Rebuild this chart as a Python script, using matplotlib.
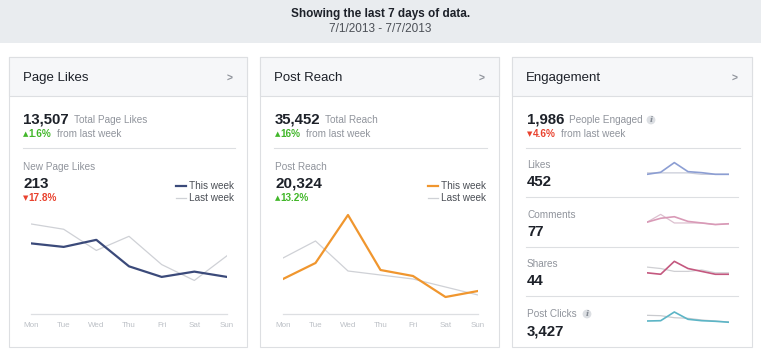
import matplotlib
matplotlib.use("Agg")
import matplotlib.pyplot as plt
from matplotlib.patches import Rectangle, Circle

plt.rcParams['font.family'] = ['Liberation Sans', 'DejaVu Sans']

W, H = 761, 351

# ---- data ----
days = ["Mon", "Tue", "Wed", "Thu", "Fri", "Sat", "Sun"]

likes_this_week = [40, 38, 42, 27, 21, 24, 21]
likes_last_week = [51, 48, 36, 44, 28, 19, 33]

reach_this_week = [2317, 3376, 6554, 2913, 2516, 1125, 1523]
reach_last_week = [3707, 4833, 2847, 2582, 2317, 1787, 1258]

eng_labels = ["Likes", "Comments", "Shares", "Post Clicks"]
eng_totals = ["452", "77", "44", "3,427"]
eng_this_week = [
    [52, 62, 109, 65, 60, 52, 52],
    [10, 15, 17, 11, 9, 7, 8],
    [5, 4, 13, 8, 6, 4, 4],
    [424, 438, 848, 504, 438, 410, 365],
]
eng_last_week = [
    [59, 59, 59, 59, 52, 52, 52],
    [10, 20, 9, 9, 9, 7, 8],
    [9, 8, 6, 6, 7, 5, 5],
    [692, 674, 579, 551, 471, 424, 377],
]

# ---- styles ----
DARK = "#1d2129"
GRAY = "#90949c"
BORDER = "#dddfe2"
GREEN = "#42b72a"
RED = "#e9422e"
LAST = "#cfd1d6"
SMALL = 7.2
eng_colors = ["#8c9ed3", "#d99ab7", "#c4587f", "#5cb5c6"]
eng_last_colors = ["#c9ccd8", "#dcc0cf", "#cfcfd3", "#c9cbcf"]

fig = plt.figure(figsize=(W / 100, H / 100), dpi=100)
bg = fig.add_axes([0, 0, 1, 1])
bg.set_xlim(0, W)
bg.set_ylim(H, 0)
bg.axis("off")


def px_axes(x0, y0, x1, y1):
    """axes placed by pixel box (y measured from top)"""
    return fig.add_axes([x0 / W, 1 - y1 / H, (x1 - x0) / W, (y1 - y0) / H])


def info(x, y):
    bg.add_patch(Circle((x, y), 4.4, facecolor="#dcdfe3", edgecolor="none"))
    bg.text(x, y + 0.4, "i", ha="center", va="center", fontsize=6,
            style="italic", fontweight="bold", color="#858b94", family="DejaVu Serif")


def arrow(x, y, up):
    col = GREEN if up else RED
    bg.text(x, y - 0.5, "▲" if up else "▼", va="baseline", fontsize=5, color=col,
            family="DejaVu Sans")
    return col


# banner
bg.add_patch(Rectangle((0, 0), W, 43, facecolor="#e9ecef", edgecolor="none"))
bg.text(W / 2, 14, "Showing the last 7 days of data.", ha="center", va="center",
        fontsize=8.5, fontweight="bold", color=DARK)
bg.text(W / 2, 29, "7/1/2013 - 7/7/2013", ha="center", va="center",
        fontsize=8.5, color="#4b4f56")

panels = [(9, 247, "Page Likes"), (260, 499, "Post Reach"), (512, 752, "Engagement")]
for x0, x1, title in panels:
    bg.add_patch(Rectangle((x0, 57), x1 - x0, 290, facecolor="white",
                           edgecolor=BORDER, lw=0.8))
    bg.add_patch(Rectangle((x0, 57), x1 - x0, 39, facecolor="#f6f7f9",
                           edgecolor=BORDER, lw=0.8))
    bg.text(x0 + 14, 78, title, va="center", fontsize=9.5, color=DARK)
    bg.text(x1 - 17, 78.5, ">", va="center", ha="center", fontsize=7.5,
            fontweight="bold", color=GRAY)
    bg.plot([x0 + 14, x1 - 12], [148, 148], color=BORDER, lw=0.8)


def summary(x, big, label, label_x, pct, up, rest_x, info_x=None):
    bg.text(x, 123, big, va="baseline", fontsize=10.8, fontweight="bold", color=DARK)
    bg.text(label_x, 123, label, va="baseline", fontsize=SMALL, color=GRAY)
    if info_x is not None:
        info(info_x, 120)
    col = arrow(x, 137, up)
    bg.text(x + 5.5, 137, pct, va="baseline", fontsize=SMALL, fontweight="bold", color=col)
    bg.text(rest_x, 137, "from last week", va="baseline", fontsize=SMALL, color=GRAY)


def main_chart(x0, x1, this, last, color, scale_top, name, total, pct, up, lx):
    bg.text(x0, 170, name, va="baseline", fontsize=SMALL, color=GRAY)
    bg.text(x0, 188, total, va="baseline", fontsize=11, fontweight="bold", color=DARK)
    col = arrow(x0, 201, up)
    bg.text(x0 + 5.5, 201, pct, va="baseline", fontsize=SMALL, fontweight="bold", color=col)

    ax = px_axes(x0 + 8, 204, x1, 314)
    ax.patch.set_alpha(0)
    xs = range(len(days))
    ax.plot(xs, last, color=LAST, lw=0.9, label="Last week", zorder=2)
    ax.plot(xs, this, color=color, lw=1.6, label="This week", zorder=3)
    ax.set_xlim(0, 6)
    ax.set_ylim(0, scale_top)
    ax.set_xticks(list(xs))
    ax.set_xticklabels(days, fontsize=5.8, color="#bcc0c6")
    ax.tick_params(axis="x", length=0, pad=6)
    ax.set_yticks([])
    for s in ["top", "left", "right"]:
        ax.spines[s].set_visible(False)
    ax.spines["bottom"].set_color(BORDER)
    ax.spines["bottom"].set_linewidth(0.9)
    handles, labels = ax.get_legend_handles_labels()
    ax.legend(handles[::-1], labels[::-1], loc="upper right",
              bbox_to_anchor=(lx, 181), bbox_transform=bg.transData,
              frameon=False, fontsize=SMALL, handlelength=1.0, handletextpad=0.35,
              labelspacing=0.2, borderpad=0, borderaxespad=0, labelcolor="#4b4f56")


summary(23, "13,507", "Total Page Likes", 74, "1.6%", True, rest_x=57)
main_chart(23, 227, likes_this_week, likes_last_week, "#3b4a7a", 62.3,
           "New Page Likes", "213", "17.8%", False, 234)

summary(275, "35,452", "Total Reach", 325, "16%", True, rest_x=306)
main_chart(275, 478, reach_this_week, reach_last_week, "#f0962e", 7282,
           "Post Reach", "20,324", "13.2%", True, 486)

summary(527, "1,986", "People Engaged", 569, "4.6%", False, rest_x=561, info_x=651)

# engagement rows
row_label_base = [168, 218.3, 267.3, 317.3]
row_value_base = [185.5, 236, 285, 335]
spark_base = [185, 230, 280, 330]
spark_top = [146, 38.4, 20.9, 1413]
for i, lab in enumerate(eng_labels):
    bg.text(527, row_label_base[i], lab, va="baseline", fontsize=SMALL, color=GRAY)
    bg.text(527, row_value_base[i], eng_totals[i], va="baseline", fontsize=10.8,
            fontweight="bold", color=DARK)
    if i > 0:
        yl = [197, 247, 296][i - 1]
        bg.plot([526, 738], [yl, yl], color=BORDER, lw=0.8)
    sx = px_axes(647, spark_base[i] - 30, 729, spark_base[i])
    sx.axis("off")
    sx.plot(range(7), eng_last_week[i], color=eng_last_colors[i], lw=0.9)
    sx.plot(range(7), eng_this_week[i], color=eng_colors[i], lw=1.2)
    sx.set_xlim(0, 6)
    sx.set_ylim(0, spark_top[i])
info(587, 314)

fig.savefig("out.png", dpi=100)
